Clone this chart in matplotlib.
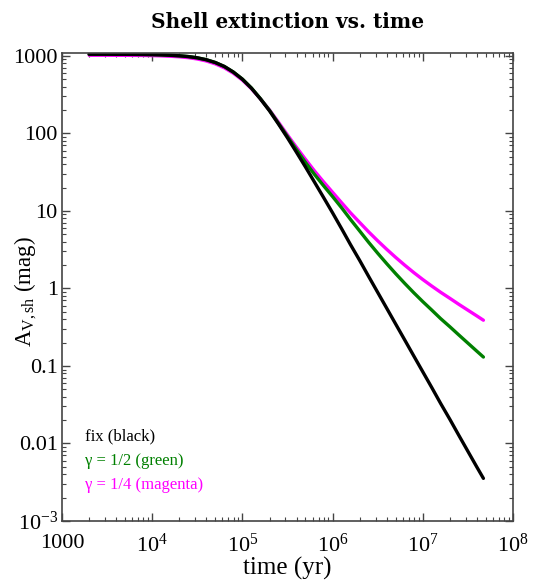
import matplotlib
matplotlib.use("Agg")
import matplotlib.pyplot as plt
import numpy as np
from matplotlib.ticker import LogLocator, NullFormatter

plt.rcParams['mathtext.fontset'] = 'custom'
plt.rcParams['mathtext.rm'] = 'Liberation Serif'
plt.rcParams['mathtext.it'] = 'Liberation Serif:italic'
plt.rcParams['font.family'] = ['Liberation Serif', 'DejaVu Serif']

# time (yr)
time_yr = [2000, 2500, 3160, 3980, 5010, 6310, 7940,
           1.0e4, 1.26e4, 1.58e4, 2.0e4, 2.51e4, 3.16e4, 3.98e4, 5.01e4, 6.31e4, 7.94e4,
           1.0e5, 1.26e5, 1.58e5, 2.0e5, 2.51e5, 3.16e5, 3.98e5, 5.01e5, 6.31e5, 7.94e5,
           1.0e6, 1.26e6, 1.58e6, 2.0e6, 2.51e6, 3.16e6, 3.98e6, 5.01e6, 6.31e6, 7.94e6,
           1.0e7, 1.26e7, 1.58e7, 2.0e7, 2.51e7, 3.16e7, 3.98e7, 4.7e7]

# log10 of A_V,sh (mag)
log_av_fix = [3.021, 3.021, 3.021, 3.020, 3.020, 3.019, 3.018,
              3.016, 3.013, 3.008, 3.001, 2.991, 2.975, 2.950, 2.914, 2.863, 2.791,
              2.699, 2.583, 2.446, 2.290, 2.121, 1.943, 1.756, 1.566, 1.370, 1.174,
              0.975, 0.770, 0.565, 0.360, 0.155, -0.050, -0.255, -0.460, -0.665, -0.870,
              -1.075, -1.280, -1.485, -1.690, -1.895, -2.100, -2.305, -2.450]
log_av_half = [3.021, 3.021, 3.021, 3.020, 3.020, 3.019, 3.018,
               3.016, 3.013, 3.008, 3.001, 2.991, 2.975, 2.950, 2.914, 2.863, 2.791,
               2.700, 2.585, 2.450, 2.297, 2.130, 1.960, 1.790, 1.625, 1.470, 1.325,
               1.185, 1.040, 0.890, 0.740, 0.595, 0.455, 0.320, 0.190, 0.065, -0.055,
               -0.170, -0.280, -0.390, -0.495, -0.600, -0.705, -0.810, -0.885]
log_av_quarter = [3.008, 3.008, 3.008, 3.007, 3.007, 3.006, 3.005,
                  3.003, 3.000, 2.995, 2.988, 2.977, 2.960, 2.934, 2.897, 2.846, 2.776,
                  2.687, 2.575, 2.447, 2.302, 2.145, 1.980, 1.820, 1.665, 1.515, 1.375,
                  1.240, 1.105, 0.975, 0.850, 0.730, 0.615, 0.505, 0.400, 0.300, 0.205,
                  0.115, 0.030, -0.050, -0.128, -0.205, -0.280, -0.355, -0.410]

av_fix = np.power(10.0, log_av_fix)
av_half = np.power(10.0, log_av_half)
av_quarter = np.power(10.0, log_av_quarter)

xtick_vals = [1e3, 1e4, 1e5, 1e6, 1e7, 1e8]
xtick_labels = ['1000', r'$10^{4}$', r'$10^{5}$', r'$10^{6}$', r'$10^{7}$', r'$10^{8}$']
ytick_vals = [1e-3, 1e-2, 1e-1, 1, 10, 100, 1000]
ytick_labels = [r'$10^{-3}$', '0.01', '0.1', '1', '10', '100', '1000']

fig = plt.figure(figsize=(5.41, 5.82), dpi=100)
ax = fig.add_axes([0.1146, 0.1048, 0.8336, 0.8042])

ax.plot(time_yr, av_quarter, color='#ff00ff', lw=2.4, solid_capstyle='round')
ax.plot(time_yr, av_half, color='#008000', lw=2.4, solid_capstyle='round')
ax.plot(time_yr, av_fix, color='black', lw=2.4, solid_capstyle='round')

ax.set_xscale('log')
ax.set_yscale('log')
ax.set_xlim(1e3, 1e8)
ax.set_ylim(1e-3, 1.09e3)

ax.set_xticks(xtick_vals)
ax.set_xticklabels(xtick_labels)
ax.set_yticks(ytick_vals)
ax.set_yticklabels(ytick_labels)
ax.xaxis.set_minor_locator(LogLocator(base=10, subs=range(2, 10), numticks=20))
ax.yaxis.set_minor_locator(LogLocator(base=10, subs=range(2, 10), numticks=20))
ax.xaxis.set_minor_formatter(NullFormatter())
ax.yaxis.set_minor_formatter(NullFormatter())

ax.tick_params(which='both', direction='in', top=True, right=True, color='#444444')
ax.tick_params(which='major', length=6, width=1, labelsize=16)
ax.tick_params(which='minor', length=3, width=0.8)
ax.tick_params(axis='x', which='major', pad=9)
ax.tick_params(axis='y', which='major', pad=3)
for s in ax.spines.values():
    s.set_color('#444444')
    s.set_linewidth(1.2)

ax.set_xlabel('time (yr)', fontsize=18, labelpad=0)
ax.set_ylabel(r'A$_{\mathrm{V,sh}}$ (mag)', fontsize=16.5)
ax.yaxis.set_label_coords(-0.05, 0.49)

fig.text(0.532, 0.963, 'Shell extinction vs. time', ha='center', va='center',
         fontsize=14.5, family='DejaVu Serif', weight='bold')

ax.text(0.051, 0.18, 'fix (black)', transform=ax.transAxes, color='black',
        fontsize=12, va='center', ha='left')
ax.text(0.051, 0.128, '\u03b3 = 1/2 (green)', transform=ax.transAxes, color='#008000',
        fontsize=12, va='center', ha='left')
ax.text(0.051, 0.077, '\u03b3 = 1/4 (magenta)', transform=ax.transAxes, color='#ff00ff',
        fontsize=12, va='center', ha='left')

fig.savefig('out.png', dpi=100)
